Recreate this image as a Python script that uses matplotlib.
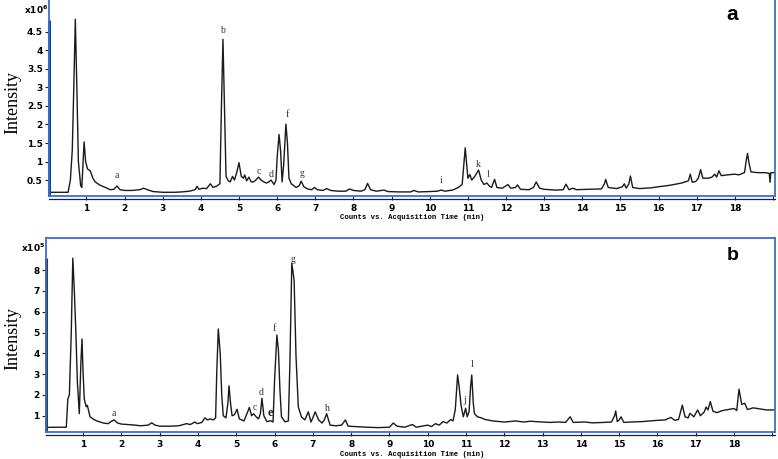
import matplotlib
matplotlib.use("Agg")
import matplotlib.pyplot as plt
from matplotlib.lines import Line2D
from matplotlib.transforms import offset_copy

# ---------------- data ----------------
time_a = [0.05, 0.3, 0.52, 0.58, 0.63, 0.67, 0.71, 0.75, 0.79, 0.85, 0.88, 0.91, 0.94, 0.98,
          1.03, 1.1, 1.17, 1.23, 1.36, 1.5, 1.62, 1.72, 1.8, 1.88, 2.0, 2.2, 2.4, 2.5, 2.6,
          2.75, 3.0, 3.3, 3.5, 3.7, 3.85, 3.9, 3.95, 4.05, 4.15, 4.25, 4.32, 4.42, 4.5, 4.54,
          4.58, 4.62, 4.66, 4.72, 4.77, 4.83, 4.88, 4.94, 5.0, 5.06, 5.12, 5.15, 5.2, 5.26,
          5.32, 5.38, 5.44, 5.51, 5.58, 5.65, 5.72, 5.78, 5.84, 5.92, 5.97, 6.0, 6.05, 6.09,
          6.13, 6.17, 6.23, 6.27, 6.31, 6.37, 6.5, 6.58, 6.63, 6.7, 6.8, 6.9, 6.98, 7.05, 7.2,
          7.3, 7.4, 7.6, 7.8, 7.9, 8.0, 8.2, 8.3, 8.37, 8.45, 8.6, 8.8, 8.9, 9.2, 9.5, 9.58,
          9.7, 10.0, 10.2, 10.3, 10.4, 10.6, 10.75, 10.85, 10.9, 10.93, 10.97, 11.0, 11.05,
          11.1, 11.18, 11.28, 11.35, 11.42, 11.5, 11.56, 11.62, 11.7, 11.76, 11.9, 12.05,
          12.12, 12.25, 12.3, 12.38, 12.6, 12.72, 12.79, 12.88, 13.0, 13.3, 13.5, 13.57,
          13.65, 13.75, 13.85, 14.1, 14.5, 14.58, 14.61, 14.68, 14.9, 15.05, 15.1, 15.15,
          15.22, 15.26, 15.32, 15.5, 15.8, 16.0, 16.3, 16.6, 16.78, 16.83, 16.88, 16.97,
          17.04, 17.1, 17.16, 17.3, 17.4, 17.47, 17.52, 17.58, 17.64, 17.8, 18.0, 18.1,
          18.25, 18.3, 18.33, 18.37, 18.42, 18.6, 18.8, 18.9, 18.92, 18.94, 19.05]
signal_a = [0.17, 0.17, 0.17, 0.5, 1.3, 3.0, 4.84, 3.0, 1.0, 0.35, 0.3, 0.9, 1.53, 1.0,
            0.8, 0.75, 0.55, 0.45, 0.36, 0.3, 0.24, 0.25, 0.34, 0.24, 0.22, 0.22, 0.24, 0.28,
            0.24, 0.19, 0.17, 0.17, 0.18, 0.2, 0.24, 0.33, 0.25, 0.28, 0.27, 0.4, 0.3, 0.34,
            0.4, 2.5, 4.3, 2.5, 0.6, 0.48, 0.45, 0.6, 0.5, 0.7, 0.97, 0.6, 0.55, 0.64, 0.48,
            0.58, 0.45, 0.45, 0.5, 0.58, 0.5, 0.45, 0.42, 0.45, 0.5, 0.38, 0.5, 1.1, 1.73, 1.3,
            0.45, 0.9, 2.01, 1.5, 0.55, 0.4, 0.3, 0.35, 0.47, 0.32, 0.26, 0.24, 0.3, 0.24, 0.22,
            0.27, 0.22, 0.2, 0.2, 0.26, 0.22, 0.2, 0.24, 0.41, 0.24, 0.2, 0.23, 0.19, 0.18, 0.18,
            0.22, 0.18, 0.19, 0.2, 0.23, 0.2, 0.23, 0.3, 0.38, 1.0, 1.37, 0.9, 0.55, 0.65,
            0.5, 0.6, 0.77, 0.5, 0.38, 0.42, 0.34, 0.3, 0.52, 0.3, 0.28, 0.38,
            0.28, 0.3, 0.37, 0.25, 0.24, 0.3, 0.45, 0.28, 0.25, 0.23, 0.24, 0.39,
            0.24, 0.28, 0.24, 0.25, 0.26, 0.4, 0.52, 0.3, 0.27, 0.32, 0.4, 0.28,
            0.4, 0.61, 0.3, 0.27, 0.29, 0.32, 0.36, 0.42, 0.48, 0.66, 0.44, 0.46,
            0.55, 0.78, 0.55, 0.55, 0.58, 0.66, 0.58, 0.75, 0.62, 0.64, 0.66, 0.64,
            0.7, 1.05, 1.22, 0.95, 0.72, 0.7, 0.7, 0.68, 0.44, 0.7, 0.7]

time_b = [0.05, 0.3, 0.56, 0.6, 0.64, 0.69, 0.73, 0.77, 0.81, 0.85, 0.9, 0.94, 0.97, 1.0,
          1.03, 1.08, 1.11, 1.18, 1.28, 1.36, 1.53, 1.65, 1.75, 1.81, 1.9, 2.0, 2.3, 2.5, 2.7,
          2.79, 2.88, 3.0, 3.3, 3.5, 3.7, 3.8, 3.92, 3.98, 4.1, 4.18, 4.25, 4.32, 4.4, 4.46,
          4.49, 4.53, 4.58, 4.62, 4.66, 4.73, 4.78, 4.81, 4.85, 4.89, 4.95, 5.02, 5.08, 5.2,
          5.3, 5.34, 5.4, 5.45, 5.52, 5.58, 5.63, 5.67, 5.72, 5.8, 5.9, 5.96, 6.0, 6.06, 6.1,
          6.14, 6.18, 6.27, 6.36, 6.4, 6.45, 6.51, 6.56, 6.62, 6.7, 6.79, 6.88, 6.95, 7.0,
          7.06, 7.15, 7.24, 7.3, 7.36, 7.45, 7.6, 7.75, 7.85, 7.92, 8.1, 8.4, 8.7, 9.0, 9.1,
          9.2, 9.4, 9.6, 9.7, 10.0, 10.1, 10.2, 10.3, 10.4, 10.5, 10.6, 10.66, 10.72, 10.78,
          10.82, 10.87, 10.93, 10.99, 11.03, 11.08, 11.12, 11.15, 11.19, 11.22, 11.3, 11.4,
          11.5, 11.7, 11.9, 12.0, 12.3, 12.5, 12.7, 12.8, 13.0, 13.2, 13.4, 13.6, 13.72, 13.8,
          14.1, 14.3, 14.6, 14.8, 14.88, 14.91, 14.95, 15.0, 15.05, 15.12, 15.3, 15.6, 16.0,
          16.2, 16.35, 16.45, 16.55, 16.65, 16.72, 16.8, 16.85, 16.95, 17.05, 17.12, 17.22,
          17.27, 17.32, 17.38, 17.45, 17.55, 17.7, 17.85, 18.0, 18.07, 18.13, 18.2, 18.28,
          18.35, 18.5, 18.7, 18.85, 19.05]
signal_b = [0.44, 0.45, 0.45, 1.8, 2.0, 5.0, 8.57, 7.0, 5.0, 2.6, 1.1, 3.5, 4.69, 3.0,
            1.8, 1.43, 1.5, 0.95, 0.82, 0.75, 0.65, 0.62, 0.75, 0.8, 0.65, 0.6, 0.56, 0.52, 0.55,
            0.66, 0.55, 0.5, 0.5, 0.52, 0.62, 0.58, 0.7, 0.62, 0.68, 0.9, 0.8, 0.85, 0.8, 0.9,
            3.1, 5.17, 4.0, 2.0, 1.0, 0.9, 1.6, 2.44, 1.6, 1.0, 1.05, 1.31, 0.85, 0.75,
            1.2, 1.4, 1.0, 1.1, 0.95, 0.85, 1.1, 1.84, 1.0, 0.72, 0.76, 0.7, 2.7, 4.88, 4.16,
            2.24, 0.95, 0.71, 0.75, 3.5, 8.33, 7.52, 3.84, 1.43, 0.95, 0.8, 1.19, 0.7, 0.9,
            1.19, 0.8, 0.65, 0.8, 1.1, 0.55, 0.52, 0.55, 0.8, 0.5, 0.48, 0.45, 0.43, 0.45, 0.65,
            0.5, 0.45, 0.58, 0.45, 0.55, 0.48, 0.62, 0.55, 0.72, 0.65, 0.82, 0.75, 1.3, 2.96,
            2.4, 1.51, 0.95, 1.36, 0.95, 1.2, 2.4, 2.96, 1.6, 1.1, 0.95, 0.9,
            0.82, 0.75, 0.72, 0.7, 0.75, 0.7, 0.74, 0.72, 0.7, 0.68, 0.7, 0.68, 0.95, 0.68,
            0.7, 0.66, 0.68, 0.7, 1.0, 1.23, 0.72, 0.8, 0.95, 0.68, 0.7, 0.72, 0.78,
            0.8, 0.92, 0.78, 0.82, 1.51, 0.95, 0.9, 1.12, 0.95, 1.28, 1.0, 1.18,
            1.42, 1.28, 1.68, 1.22, 1.15, 1.25, 1.3, 1.35, 1.25, 2.28, 1.55, 1.6,
            1.3, 1.38, 1.32, 1.28, 1.28]

labels_a = ["a", "b", "c", "d", "f", "g", "i", "k", "l"]
label_t_a = [1.8, 4.58, 5.51, 5.84, 6.28, 6.65, 10.3, 11.28, 11.52]
label_v_a = [0.61, 4.53, 0.72, 0.64, 2.26, 0.68, 0.5, 0.93, 0.64]

labels_b = ["a", "c", "d", "e", "f", "g", "h", "j", "l"]
label_t_b = [1.81, 5.49, 5.66, 5.88, 5.99, 6.47, 7.38, 10.97, 11.16]
label_v_b = [1.1, 1.39, 2.1, 1.12, 5.2, 8.52, 1.36, 1.75, 3.44]

xticks = list(range(1, 20))
xtick_labels = [str(i) for i in range(1, 19)] + [""]
yticks_a = [0.5, 1, 1.5, 2, 2.5, 3, 3.5, 4, 4.5]
ytick_labels_a = ["0.5", "1", "1.5", "2", "2.5", "3", "3.5", "4", "4.5"]
yticks_b = [1, 2, 3, 4, 5, 6, 7, 8]
ytick_labels_b = ["1", "2", "3", "4", "5", "6", "7", "8"]

# ---------------- figure ----------------
W, H = 778, 459
fig = plt.figure(figsize=(W / 100, H / 100), dpi=100)
BLUE = "#3d70c2"
DARK = "#1f3f7a"
TRACE = "#1a1a1a"


def make_panel(rect, t, v, xlim, ylim, yticks, yticklabels, dark_top,
               labels, lt, lv, bold_label, top_spine):
    ax = fig.add_axes(rect)
    ax.plot(t, v, color=TRACE, lw=1.0)
    ax.set_xlim(*xlim)
    ax.set_ylim(*ylim)
    for s in ax.spines.values():
        s.set_color(BLUE)
        s.set_linewidth(1.3)
    ax.spines["top"].set_visible(top_spine)
    ax.set_xticks(xticks)
    ax.set_xticklabels(xtick_labels)
    ax.set_yticks(yticks)
    ax.set_yticklabels(yticklabels)
    ax.tick_params(axis="both", direction="out", length=3, width=0.8,
                   color="#222222", labelsize=6.5, pad=1.5)
    for lab in ax.get_xticklabels() + ax.get_yticklabels():
        lab.set_fontweight("bold")
    ax.tick_params(axis="x", pad=3)
    # dark inner left axis
    ax.plot([xlim[0], xlim[0]], [ylim[0], dark_top], color=DARK, lw=2.2,
            clip_on=False, solid_capstyle="butt")
    # black time axis just below the frame
    tr = offset_copy(ax.transAxes, fig=fig, x=0, y=-2.5, units="dots")
    ax.add_line(Line2D([0, 1], [0, 0], transform=tr, color="#222222", lw=0.9,
                       clip_on=False))
    for s, x, y in zip(labels, lt, lv):
        if s == bold_label:
            ax.text(x, y, s, fontsize=9, fontweight="bold", family="Liberation Serif",
                    color="#222222", ha="center", va="center")
        else:
            ax.text(x, y, s, fontsize=7, family="Liberation Serif", color="#333333",
                    ha="center", va="center")
    return ax


# panel a
axa = make_panel([49 / W, 1 - 196 / H, (775 - 49) / W, 196 / H + 0.01],
                 time_a, signal_a, (0.02, 19.05), (0.07, 5.36 + 0.01 * H / 37),
                 yticks_a, ytick_labels_a, 4.82, labels_a, label_t_a, label_v_a,
                 None, False)
# panel b
axb = make_panel([46 / W, 1 - 432 / H, (775 - 46) / W, (432 - 238) / H],
                 time_b, signal_b, (0.03, 19.07), (0.22, 9.54),
                 yticks_b, ytick_labels_b, 8.58, labels_b, label_t_b, label_v_b,
                 "e", True)

# axis titles and decorations
xl = "Counts vs. Acquisition Time (min)"
fig.text(412 / W, 1 - 218 / H, xl, ha="center", va="center", fontsize=5.2,
         family="Liberation Mono", fontweight="bold")
fig.text(412 / W, 1 - 454 / H, xl, ha="center", va="center", fontsize=5.2,
         family="Liberation Mono", fontweight="bold")

fig.text(13 / W, 1 - 103 / H, "Intensity", rotation=90, ha="center", va="center",
         fontsize=13, family="Liberation Serif")
fig.text(13 / W, 1 - 338 / H, "Intensity", rotation=90, ha="center", va="center",
         fontsize=13, family="Liberation Serif")

fig.text(24 / W, 1 - 10 / H, r"x10$^{\mathbf{6}}$", ha="left", va="center",
         fontsize=6.5, fontweight="bold")
fig.text(21 / W, 1 - 248 / H, r"x10$^{\mathbf{5}}$", ha="left", va="center",
         fontsize=6.5, fontweight="bold")

fig.text(732 / W, 1 - 14 / H, "a", ha="center", va="center", fontsize=15,
         fontweight="bold", family="Liberation Sans")
fig.text(733 / W, 1 - 256 / H, "b", ha="center", va="center", fontsize=14,
         fontweight="bold", family="Liberation Sans")

fig.savefig("out.png", dpi=100)
